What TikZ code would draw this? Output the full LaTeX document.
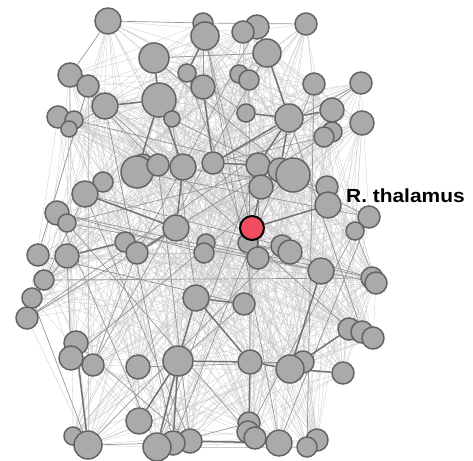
\documentclass[tikz,border=0pt]{standalone}
\usepackage{fontspec}
\usepackage{graphicx}
\setsansfont{Liberation Sans}
\usetikzlibrary{backgrounds}
\definecolor{nodefill}{RGB}{170,170,170}
\definecolor{nodeline}{RGB}{100,100,100}
\definecolor{thal}{RGB}{240,76,96}
\definecolor{faintc}{RGB}{200,200,200}
\definecolor{midc}{RGB}{150,150,150}
\definecolor{heavyc}{RGB}{115,115,115}
\tikzset{
  nd/.style={circle, fill=nodefill, draw=nodeline, line width=1.5pt, inner sep=0pt},
  rd/.style={circle, fill=thal, draw=black, line width=2pt, inner sep=0pt},
  faint/.style={draw=faintc, line width=0.3pt},
  midedge/.style={draw=midc, line width=0.7pt},
  heavy/.style={draw=heavyc, line width=1.5pt},
  lbl/.style={font=\sffamily\bfseries\fontsize{19}{19}\selectfont, inner sep=0pt, anchor=base west}
}
\begin{document}
\begin{tikzpicture}[x=1pt,y=-1pt]
\useasboundingbox (0,0) rectangle (473,460);
\foreach \x/\y/\r/\s [count=\i] in {
108/21/13/nd, 203/23/10/nd, 205/36/14/nd, 257/27/12/nd, 243/32/11/nd, 306/24/11/nd,
154/58/15/nd, 267/53/14/nd, 70/75/12/nd, 88/86/11/nd, 187/73/9/nd, 203/87/12/nd,
239/74/9/nd, 249/80/10/nd, 314/84/11/nd, 361/83/11/nd, 105/106/13/nd, 159/100/17/nd,
172/119/8/nd, 58/117/11/nd, 74/120/9/nd, 69/129/8/nd, 246/113/9/nd, 289/118/14/nd,
332/110/12/nd, 362/123/12/nd, 332/132/10/nd, 324/137/10/nd,
143/164/10/nd, 137/172/16/nd, 158/165/11/nd, 183/167/13/nd, 213/163/11/nd, 258/165/12/nd,
280/170/12/nd, 293/175/17/nd, 103/182/10/nd, 85/194/13/nd, 261/187/12/nd, 327/187/11/nd,
328/205/13/nd, 57/213/12/nd, 67/223/9/nd, 369/217/11/nd, 176/228/13/nd, 355/231/9/nd,
248/243/10/nd, 252/228/12/rd, 125/242/10/nd, 137/253/11/nd, 206/243/9/nd, 204/253/10/nd,
258/258/11/nd, 282/246/11/nd, 290/252/12/nd, 38/255/11/nd, 67/256/12/nd, 321/271/13/nd,
372/278/11/nd, 376/283/11/nd, 44/280/10/nd, 32/298/10/nd, 27/318/11/nd, 196/298/13/nd,
244/304/11/nd, 349/329/11/nd, 362/332/11/nd, 373/338/11/nd, 76/343/12/nd, 71/358/12/nd,
93/365/11/nd, 138/367/12/nd, 178/361/15/nd, 250/362/12/nd, 303/362/11/nd, 290/369/14/nd,
343/373/11/nd, 139/421/13/nd, 249/423/11/nd, 248/432/11/nd, 255/438/11/nd, 73/436/9/nd,
88/445/14/nd, 190/441/12/nd, 173/443/12/nd, 157/447/14/nd, 279/443/13/nd, 317/440/11/nd,
307/447/10/nd}
  \node[\s, minimum size=2*\r pt] (n\i) at (\x,\y) {};
\node[lbl] (lab) at (346,202) {\scalebox{1.1}[1]{R. thalamus}};
\begin{pgfonlayer}{background}
  \pgfmathsetseed{4242}
  \foreach \i in {1,...,88}{
    \pgfmathtruncatemacro\ip{\i+1}
    \foreach \j in {\ip,...,89}{
      \pgfmathsetmacro\rr{rnd}
      \ifdim\rr pt<0.19pt \draw[faint] (n\i) -- (n\j);\fi
    }
  }
  \foreach \i in {1,...,88}{
    \pgfmathtruncatemacro\ip{\i+1}
    \foreach \j in {\ip,...,89}{
      \pgfmathsetmacro\rr{rnd}
      \ifdim\rr pt<0.012pt \draw[midedge] (n\i) -- (n\j);\fi
    }
  }
  \foreach \a/\b in {17/18, 18/30, 18/32, 7/18, 8/24, 23/24, 24/25, 24/35, 12/33, 33/24,
    33/34, 38/45, 45/50, 45/32, 48/41, 57/49, 64/65, 64/73, 73/74, 74/76, 76/58, 76/66,
    76/77, 73/86, 73/85, 74/79, 39/48, 24/34, 3/11, 30/31, 84/87, 64/74, 78/73, 83/69}
    \draw[heavy] (n\a) -- (n\b);
\end{pgfonlayer}
\end{tikzpicture}
\end{document}
